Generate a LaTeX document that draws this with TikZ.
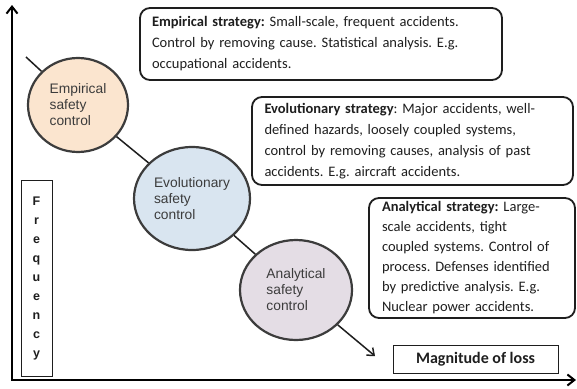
\documentclass[tikz,border=0pt]{standalone}
\usepackage{fontspec}
\setmainfont{Carlito}
\newfontfamily\arialf{Liberation Sans}
\usetikzlibrary{shapes.geometric,arrows.meta}
\definecolor{peach}{HTML}{FBE5CF}
\definecolor{paleblue}{HTML}{D9E5F0}
\definecolor{lavender}{HTML}{E4DDE5}
\definecolor{edge}{HTML}{3C3C3C}
\definecolor{ink}{HTML}{1E1E1E}
\tikzset{
  control/.style={ellipse, draw=edge, line width=2.2pt, inner sep=0pt,
    align=left, text=edge, font=\arialf\fontsize{13.8}{16}\selectfont},
  strategy/.style={draw=ink, line width=1.8pt, rounded corners=10pt,
    align=left, text=ink, inner sep=0pt,
    font=\fontsize{14.5}{21}\selectfont\frenchspacing},
  plainbox/.style={draw=ink, line width=1pt, inner sep=0pt, text=ink},
  link/.style={draw=ink, line width=1.5pt},
  axis/.style={draw=black, line width=2pt, {Straight Barb[length=7pt,width=11pt]}-{Straight Barb[length=7pt,width=11pt]}}
}
\begin{document}
\begin{tikzpicture}[x=1pt,y=-1pt]
\useasboundingbox (0,0) rectangle (577,388);

% axes
\coordinate (ytop) at (12,5);
\coordinate (xend) at (576,380);
\draw[axis] (ytop) |- (xend);

% frequency label
\node[plainbox, minimum width=31pt, minimum height=196pt,
  font=\arialf\bfseries\fontsize{12.5}{19}\selectfont, align=center]
  (freq) at (36.5,278) {F\\r\\e\\q\\u\\e\\n\\c\\y};

% magnitude label
\node[plainbox, minimum width=165pt, minimum height=28pt,
  font=\bfseries\fontsize{16}{18}\selectfont]
  (mag) at (475.5,359) {Magnitude of loss};

% safety control ellipses
\node[control, fill=peach, minimum width=100pt, minimum height=94pt]
  (emp) at (78,105) {Empirical\\safety\\control};
\node[control, fill=paleblue, minimum width=116pt, minimum height=103pt]
  (evo) at (192,198.5) {Evolutionary\\safety\\control};
\node[control, fill=lavender, minimum width=112pt, minimum height=100pt]
  (ana) at (296,290) {Analytical\\safety\\control};

% diagonal trend line
\coordinate (lstart) at (26,57);
\coordinate (lend) at (375,356);
\draw[link] (lstart) -- (emp);
\draw[link] (emp) -- (evo);
\draw[link] (evo) -- (ana);
\draw[link, -{Straight Barb[length=6pt,width=10pt]}] (ana) -- (lend);

% strategy descriptions
\node[strategy, minimum width=362pt, minimum height=72pt, text width=338pt]
  (s1) at (321,44) {\textbf{Empirical strategy:} Small-scale, frequent accidents.\\
  Control by removing cause. Statistical analysis. E.g.\\
  occupational accidents.};
\node[strategy, minimum width=321pt, minimum height=88pt, text width=296pt]
  (s2) at (412.5,141) {\textbf{Evolutionary strategy}: Major accidents, well-\\
  defined hazards, loosely coupled systems,\\
  control by removing causes, analysis of past\\
  accidents. E.g. aircraft accidents.};
\node[strategy, minimum width=206pt, minimum height=120pt, text width=180pt,
  font=\fontsize{14.5}{20}\selectfont\frenchspacing]
  (s3) at (472,258) {\textbf{Analytical strategy:} Large-\\
  scale accidents, tight\\
  coupled systems. Control of\\
  process. Defenses identified\\
  by predictive analysis. E.g.\\
  Nuclear power accidents.};
\end{tikzpicture}
\end{document}
